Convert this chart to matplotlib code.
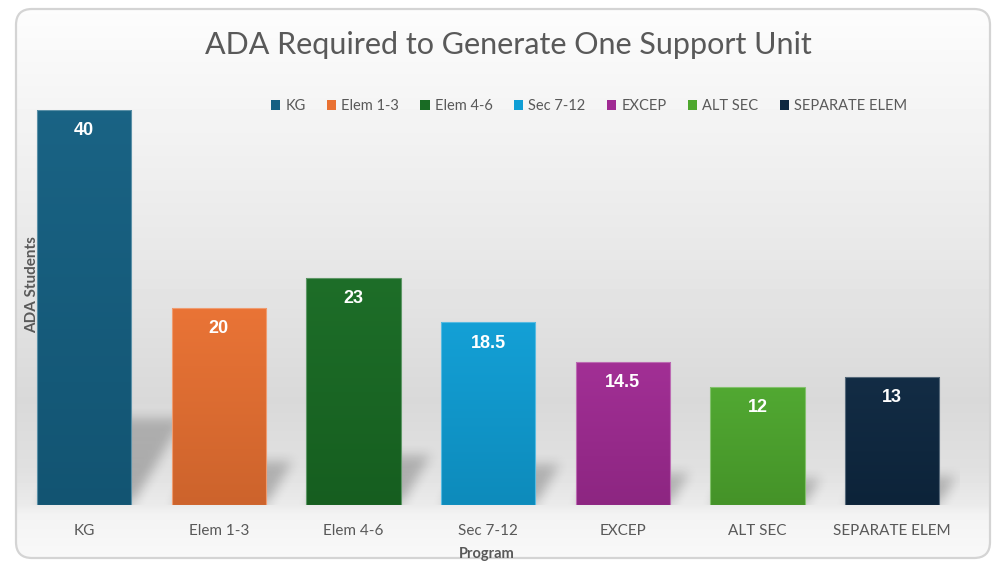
import numpy as np
import matplotlib
matplotlib.use("Agg")
import matplotlib.pyplot as plt
import matplotlib.colors as mcolors
from matplotlib.patches import FancyBboxPatch, Patch

programs = ["KG", "Elem 1-3", "Elem 4-6", "Sec 7-12", "EXCEP", "ALT SEC", "SEPARATE ELEM"]
ada_values = [40, 20, 23, 18.5, 14.5, 12, 13]
bar_colors = ["#156082", "#E97132", "#196B24", "#0F9ED5", "#A02B93", "#4EA72E", "#0E2841"]

title = "ADA Required to Generate One Support Unit"
x_title = "Program"
y_title = "ADA Students"

narrow = ["Lato", "DejaVu Sans"]
grey_txt = "#595959"

W, H = 992, 562
fig = plt.figure(figsize=(W / 100, H / 100), dpi=100)
fig.patch.set_facecolor("white")


def fx(px):
    return px / W


def fy(py):
    return 1 - py / H


# chart area background, vertical gradient clipped to a rounded frame
bg = fig.add_axes([0, 0, 1, 1])
bg.set_xlim(0, W)
bg.set_ylim(H, 0)
bg.axis("off")
stops_y = [8, 100, 250, 400, 470, 505, 515, 560]
stops_v = [0.99, 0.96, 0.91, 0.85, 0.88, 0.92, 0.955, 0.975]
rows = np.interp(np.arange(H), stops_y, stops_v)
grad = np.repeat(rows[:, None], 4, axis=1)
im = bg.imshow(grad, cmap="gray", vmin=0, vmax=1, extent=[0, W, H, 0], aspect="auto", zorder=0)
frame = FancyBboxPatch((16, 9), 974, 549, boxstyle="round,pad=0,rounding_size=16",
                       facecolor="none", edgecolor="#d4d4d4", linewidth=1.6, zorder=1)
bg.add_patch(frame)
im.set_clip_path(frame)

# plot area
ax_left, ax_right, ax_top, ax_bottom = 16.7, 959.6, 110, 505
ax = fig.add_axes([fx(ax_left), fy(ax_bottom), fx(ax_right - ax_left), (ax_bottom - ax_top) / H])
ax.set_facecolor("none")
ax.set_xlim(-0.5, len(programs) - 0.5)
ax.set_ylim(0, 40)
for s in ax.spines.values():
    s.set_visible(False)
ax.set_yticks([])
ax.tick_params(axis="x", length=0, pad=14)
ax.set_xticks(range(len(programs)))
ax.set_xticklabels(programs, fontsize=11, color=grey_txt, family=narrow)

x = np.arange(len(programs))
bar_w = 0.70

# soft cast shadow behind the bars
gx = np.linspace(-0.5, len(programs) - 0.5, 944)
gy = np.linspace(0, 40, 395)
GX, GY = np.meshgrid(gx, gy)
mask = np.zeros_like(GX)
px_per_cat = (ax_right - ax_left) / len(programs)
px_per_unit = (ax_bottom - ax_top) / 40
for xi, h in zip(x, ada_values):
    rise = 0.22 * h
    shift = 0.6 * rise * px_per_unit / px_per_cat
    t = np.clip(GY / rise, 0, None)
    x0 = xi - bar_w / 2 + shift * t
    x1 = xi + bar_w / 2 + shift * t
    inside = (GY <= rise) & (GX >= x0) & (GX <= x1)
    mask = np.maximum(mask, inside * (1 - 0.2 * t))
# fade right at the floor line
mask[GY < 0.4] *= 0.3


def box_blur(a, k):
    out = a.copy()
    for axis in (0, 1):
        c = np.cumsum(np.pad(out, [(k, k) if i == axis else (0, 0) for i in range(2)], mode="edge"), axis=axis)
        c = np.insert(c, 0, 0, axis=axis)
        n = out.shape[axis]
        hi = np.take(c, np.arange(2 * k + 1, 2 * k + 1 + n), axis=axis)
        lo = np.take(c, np.arange(0, n), axis=axis)
        out = (hi - lo) / (2 * k + 1)
    return out


mask = box_blur(box_blur(mask, 6), 6)
shadow = np.zeros(mask.shape + (4,))
shadow[..., 3] = mask * 0.26
ax.imshow(shadow, extent=[-0.5, len(programs) - 0.5, 0, 40], origin="lower",
          aspect="auto", zorder=1, interpolation="bilinear")

# bars with a light vertical gradient
bars = ax.bar(x, ada_values, width=bar_w, color=bar_colors, zorder=2,
              edgecolor="none")
for b, c in zip(bars, bar_colors):
    rgb = np.array(mcolors.to_rgb(c))
    top = rgb * 0.98 + 0.02
    bot = rgb * 0.88
    n = 64
    tt = np.linspace(0, 1, n)[:, None]
    g = (bot[None, :] * (1 - tt) + top[None, :] * tt)[:, None, :]
    bx, by = b.get_x(), b.get_y()
    bw, bh = b.get_width(), b.get_height()
    gim = ax.imshow(g, extent=[bx, bx + bw, by, by + bh], origin="lower",
                    aspect="auto", zorder=3, interpolation="bilinear")
    gim.set_clip_path(b)
    edge = tuple(rgb * 0.7 + 0.3)
    ax.bar(bx + bw / 2, bh, width=bw, color="none", edgecolor=edge, linewidth=0.8, zorder=4)

for xi, v in zip(x, ada_values):
    ax.annotate(f"{v:g}", (xi, v), xytext=(0, -15), textcoords="offset points",
                ha="center", va="center", color="white", fontsize=13,
                fontweight="bold", family=["Liberation Sans", "DejaVu Sans"], zorder=5)

ax.set_xlim(-0.5, len(programs) - 0.5)
ax.set_ylim(0, 40)

# legend
handles = [Patch(facecolor=c, edgecolor="none") for c in bar_colors]
fig.legend(handles, programs, loc="center", bbox_to_anchor=(fx(589), fy(106)), ncol=len(programs),
           frameon=False, handlelength=0.65, handleheight=0.65, handletextpad=0.35,
           columnspacing=1.45, prop={"family": narrow, "size": 10.5}, labelcolor=grey_txt)

fig.text(fx(508), fy(45), title, ha="center", va="center", fontsize=22, color=grey_txt, family=narrow)
fig.text(fx(487), fy(554), x_title, ha="center", va="center", fontsize=10.5, color=grey_txt,
         fontweight="bold", family=narrow)
fig.text(fx(32), fy(285), y_title, ha="center", va="center", rotation=90, fontsize=11,
         color=grey_txt, fontweight="bold", family=narrow)

fig.savefig("out.png", dpi=100)
